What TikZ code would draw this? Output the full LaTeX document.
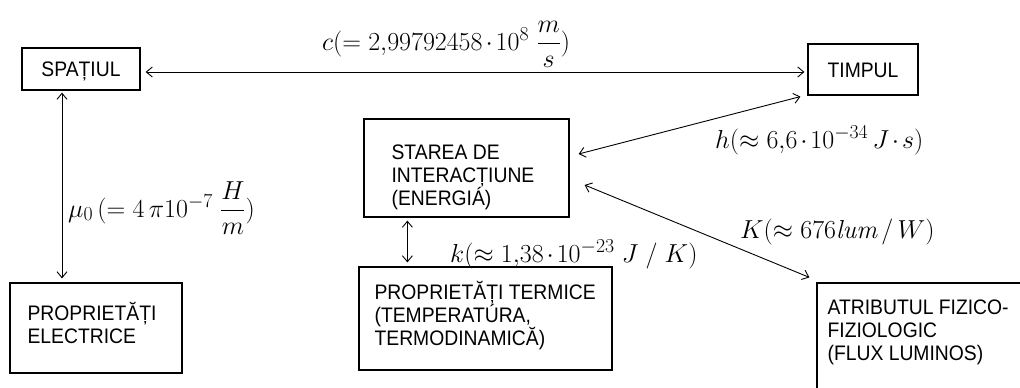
\RequirePackage{fix-cm}
\documentclass[tikz,border=0pt]{standalone}
\usepackage{amsmath}
\usepackage{fontspec}
\usetikzlibrary{arrows.meta}
\newfontfamily\boxfont[FakeStretch=0.92]{Liberation Sans}
\renewcommand{\defaultscriptratio}{.76}
\renewcommand{\defaultscriptscriptratio}{.6}
\tikzset{
  box/.style={draw, line width=1.2pt, inner sep=0pt},
  boxtxt/.style={font=\boxfont\fontsize{21}{23}\selectfont},
  lbl/.style={anchor=north west, align=left, inner sep=0pt, font=\boxfont\fontsize{21}{23}\selectfont},
  conn/.style={line width=0.9pt, {Straight Barb[length=6pt,width=10pt]}-{Straight Barb[length=6pt,width=10pt]}},
  formula/.style={anchor=base west, inner sep=0pt, font=\fontsize{26}{30}\selectfont},
}
\newcommand{\fst}{\rule{0pt}{20pt}}
\newcommand{\dt}{\mskip2mu{\cdot}\mskip2mu}
\begin{document}
\begin{tikzpicture}[x=1pt,y=-1pt]
\useasboundingbox (0,0) rectangle (1020,388);
\fill[white] (0,0) rectangle (1020,388);
\clip (0,0) rectangle (1020,388);

% boxes
\node[box, boxtxt, minimum width=118pt, minimum height=42pt, text height=15pt, text depth=0pt] (spat) at (81,69) {SPAȚIUL};
\node[box, boxtxt, minimum width=110pt, minimum height=51pt, text height=15pt, text depth=0pt] (timp) at (863,69.5) {TIMPUL};
\node[box, minimum width=205pt, minimum height=98pt,
  label={[lbl, xshift=28pt, yshift=-21pt]north west:{\fst STAREA DE\\INTERACȚIUNE\\(ENERGIÁ)}}] (stare) at (466.5,168) {};
\node[box, minimum width=172pt, minimum height=90pt,
  label={[lbl, xshift=18pt, yshift=-18pt]north west:{\fst PROPRIETĂȚI\\ELECTRICE}}] (elec) at (96,328) {};
\node[box, minimum width=253pt, minimum height=103pt,
  label={[lbl, xshift=16pt, yshift=-13pt]north west:{\fst PROPRIETĂȚI TERMICE\\(TEMPERATÚRA,\\TERMODINAMICĂ)}}] (term) at (485.5,318.5) {};
\node[box, minimum width=260pt, minimum height=150pt,
  label={[lbl, xshift=11pt, yshift=-12pt]north west:{\fst ATRIBUTUL FIZICO-\\FIZIOLOGIC\\(FLUX LUMINOS)}}] (atr) at (947,358) {};

% connectors
\draw[conn] ([xshift=5pt,yshift=-3pt]spat.east) -- ([xshift=-3pt,yshift=-2.5pt]timp.west);
\draw[conn] ([xshift=-19pt,yshift=-2pt]spat.south) -- ([xshift=-34pt,yshift=4pt]elec.north);
\draw[conn] ([xshift=9pt,yshift=14pt]stare.east) -- ([xshift=-7pt,yshift=-1pt]timp.south west);
\draw[conn] ([xshift=15pt,yshift=-17pt]stare.east) -- ([xshift=-7pt,yshift=5pt]atr.north west);
\draw[conn] ([xshift=44pt,yshift=-3pt]stare.south west) -- ([xshift=49pt,yshift=4pt]term.north west);

% formulas
\node[formula] (lc) at (322,50) {$c(=2{,}99792458\dt 10^{8}\;\dfrac{m}{s})$};
\node[formula] (lmu) at (68,217) {$\mu_0\,(=4\,\pi 10^{-7}\;\dfrac{H}{m})$};
\node[formula] (lh) at (715,148) {$h(\approx 6{,}6\dt 10^{-34}\,J\dt s)$};
\node[formula] (lk) at (450,262) {$k(\approx 1{,}38\dt 10^{-23}\;J\;/\;K)$};
\node[formula] (lK) at (740,238) {$K(\approx 676\mathit{lum}\,/\,W)$};
\end{tikzpicture}
\end{document}
